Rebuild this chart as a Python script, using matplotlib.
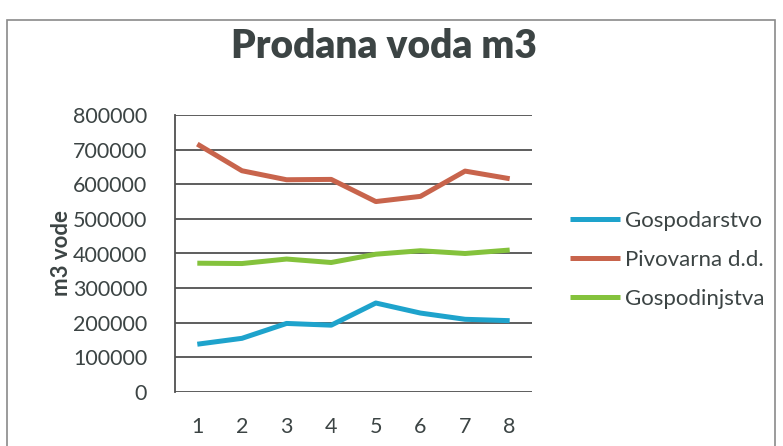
import matplotlib.pyplot as plt
from matplotlib.patches import Rectangle

# data
months = [1, 2, 3, 4, 5, 6, 7, 8]
gospodarstvo = [138000, 155000, 198000, 193000, 257000, 228000, 210000, 206000]
pivovarna = [716000, 639000, 613000, 614000, 550000, 565000, 638000, 616000]
gospodinjstva = [372000, 371000, 384000, 374000, 398000, 408000, 400000, 410000]
series_names = ['Gospodarstvo', 'Pivovarna d.d.', 'Gospodinjstva']
yticks = [0, 100000, 200000, 300000, 400000, 500000, 600000, 700000, 800000]

plt.rcParams['font.family'] = ['Lato', 'DejaVu Sans']
text_color = '#3c4444'

fig = plt.figure(figsize=(7.83, 4.46), dpi=100)
fig.patch.set_facecolor('white')

# outer chart frame
fig.patches.append(Rectangle((7 / 783, -0.05), (775 - 7) / 783, 1 - 20 / 446 + 0.05,
                             transform=fig.transFigure, fill=False,
                             edgecolor='#8a8a8a', linewidth=1.2))

ax = fig.add_axes([175 / 783, 1 - 392 / 446, (532 - 175) / 783, (392 - 115) / 446])

colors = ['#1ea3cc', '#c8644c', '#84c23c']
for vals, name, c in zip([gospodarstvo, pivovarna, gospodinjstva], series_names, colors):
    ax.plot(months, vals, color=c, linewidth=3.6, label=name, solid_capstyle='butt')

ax.set_xlim(0.5, 8.5)
ax.set_ylim(0, 800000)
ax.set_yticks(yticks)
ax.set_yticklabels([str(v) for v in yticks])
ax.set_xticks(months)
ax.grid(axis='y', color='#505050', linewidth=1.3)
ax.set_axisbelow(True)
for s in ['top', 'right', 'bottom']:
    ax.spines[s].set_visible(False)
ax.spines['left'].set_color('#505050')
ax.spines['left'].set_linewidth(1.3)
ax.tick_params(length=0, labelsize=15.5, colors=text_color, pad=20)
ax.tick_params(axis='x', pad=18)

ax.set_ylabel('m3 vode', fontsize=16, fontweight='bold', color=text_color)
ax.yaxis.set_label_coords(-0.288, 0.5)

fig.text(384 / 783, 1 - 47 / 446, 'Prodana voda m3', ha='center', va='center',
         fontsize=28, fontweight='heavy', color=text_color)

leg = ax.legend(loc='center left', bbox_to_anchor=(1.106, 0.477), frameon=False,
                fontsize=16, handlelength=2.25, handletextpad=0.22, labelspacing=0.84,
                borderpad=0, borderaxespad=0)
for t in leg.get_texts():
    t.set_color(text_color)

fig.savefig('out.png', dpi=100)
